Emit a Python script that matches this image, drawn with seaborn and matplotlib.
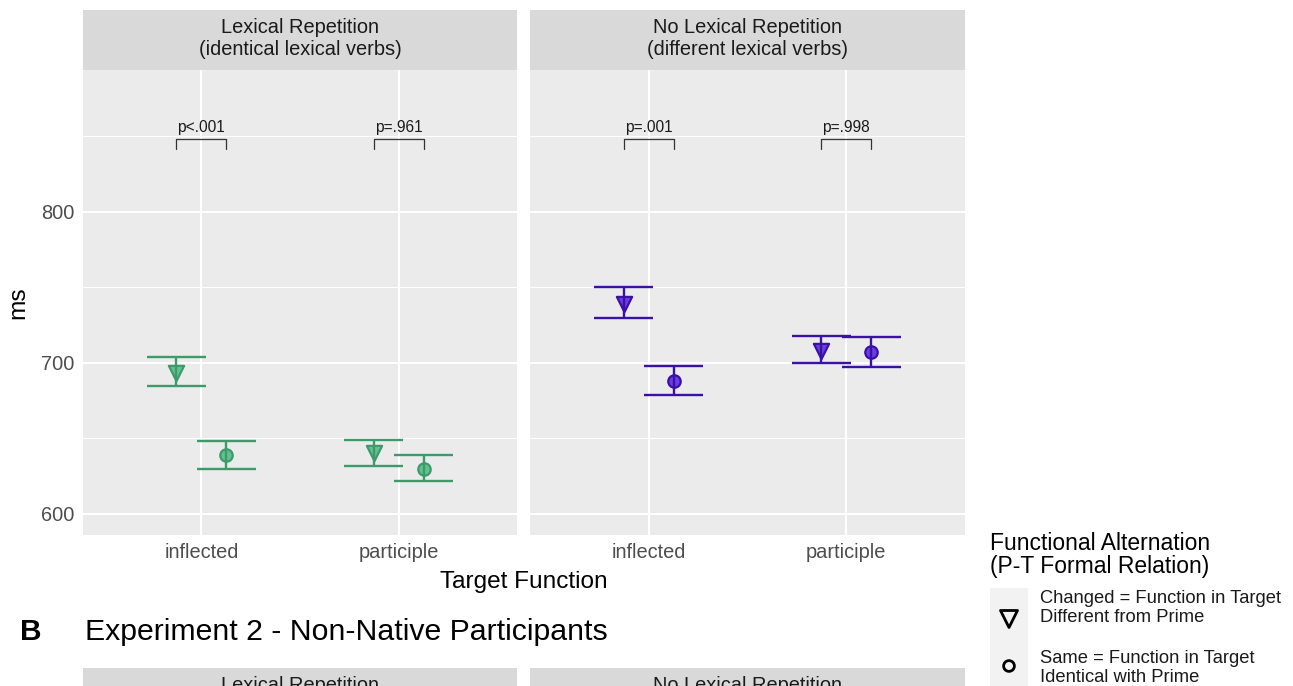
import matplotlib

matplotlib.use("Agg")

import matplotlib.pyplot as plt
import pandas as pd
import seaborn as sns

W, H = 1293, 686

panels = ["Lexical Repetition\n(identical lexical verbs)", "No Lexical Repetition\n(different lexical verbs)"]
functions = ["inflected", "participle"]
relations = ["Changed", "Same"]

# order: inflected/changed, inflected/same, participle/changed, participle/same
lex_mean = [693, 639, 640, 630]
lex_low = [685, 630, 632, 622]
lex_high = [704, 648, 649, 639]
nolex_mean = [739, 688, 708, 707]
nolex_low = [730, 679, 700, 697]
nolex_high = [750, 698, 718, 717]

p_lex = ["p<.001", "p=.961"]
p_nolex = ["p=.001", "p=.998"]

legend_labels = ["Changed = Function in Target\nDifferent from Prime",
                 "Same = Function in Target\nIdentical with Prime"]

colors = [("#3d9a6b", "#63c18f"), ("#3a10a6", "#6a3ee2")]
markers = {"Changed": "v", "Same": "o"}
msize = {"Changed": 120, "Same": 80}
DODGE = 0.127
CAP = 0.15


def box(x0, y0, x1, y1):
    return [x0 / W, 1 - y1 / H, (x1 - x0) / W, (y1 - y0) / H]


def make_frame(mean, low, high):
    rows = []
    k = 0
    for i, f in enumerate(functions):
        for r in relations:
            rows.append({"function": f, "relation": r, "mean": mean[k], "low": low[k], "high": high[k],
                         "x": i + (-DODGE if r == "Changed" else DODGE)})
            k += 1
    return pd.DataFrame(rows)


def strip(rect, label):
    ax = fig.add_axes(rect)
    ax.set_facecolor("#d9d9d9")
    ax.set_xticks([])
    ax.set_yticks([])
    for s in ax.spines.values():
        s.set_visible(False)
    ax.text(0.5, 0.52, label, ha="center", va="center", fontsize=14.4, color="#1a1a1a",
            transform=ax.transAxes, linespacing=1.18)
    return ax


sns.set_theme(style="darkgrid")
plt.rcParams["font.family"] = ["Liberation Sans", "DejaVu Sans"]

fig = plt.figure(figsize=(W / 100, H / 100), dpi=100)

frames = [make_frame(lex_mean, lex_low, lex_high), make_frame(nolex_mean, nolex_low, nolex_high)]
pvals = [p_lex, p_nolex]
xpix = [(83, 517), (530, 965)]

for j, (df, (x0, x1)) in enumerate(zip(frames, xpix)):
    ax = fig.add_axes(box(x0, 70, x1, 535))
    ax.set_facecolor("#ebebeb")
    edge, fill = colors[j]
    for r in relations:
        sub = df[df["relation"] == r]
        sns.scatterplot(data=sub, x="x", y="mean", marker=markers[r], s=msize[r], color=fill,
                        edgecolor=edge, linewidth=1.6, legend=False, ax=ax, zorder=3)
    ax.vlines(df["x"], df["low"], df["high"], color=edge, lw=1.7, zorder=4)
    ax.hlines(df["low"], df["x"] - CAP, df["x"] + CAP, color=edge, lw=1.7, zorder=4)
    ax.hlines(df["high"], df["x"] - CAP, df["x"] + CAP, color=edge, lw=1.7, zorder=4)

    for i, p in enumerate(pvals[j]):
        ax.plot([i - DODGE, i - DODGE, i + DODGE, i + DODGE], [842, 848, 848, 842],
                color="#333333", lw=0.9, zorder=4)
        ax.text(i, 851, p, ha="center", va="bottom", fontsize=11.2, color="#1a1a1a")

    ax.set_xlim(-0.6, 1.6)
    ax.set_ylim(586, 894)
    ax.set_xticks(range(len(functions)))
    ax.set_xticklabels(functions)
    ax.set_yticks([600, 700, 800])
    ax.set_yticks([650, 750, 850], minor=True)
    ax.grid(True, which="major", color="white", lw=1.5)
    ax.grid(True, which="minor", axis="y", color="white", lw=0.75)
    ax.set_axisbelow(True)
    for s in ax.spines.values():
        s.set_visible(False)
    ax.tick_params(axis="both", which="major", length=3.5, width=1.1, color="#333333",
                   labelcolor="#4d4d4d", labelsize=14.4, pad=2.5)
    ax.tick_params(axis="both", which="minor", length=0)
    ax.set_xlabel("")
    ax.set_ylabel("")
    if j == 1:
        ax.tick_params(axis="y", which="major", length=0, labelleft=False)

    strip(box(x0, 10, x1, 70), panels[j])
    # panel B strips, cut by the bottom edge as in the source figure
    strip(box(x0, 668, x1, 728), panels[j])

fig.text(18 / W, 1 - 303 / H, "ms", rotation=90, ha="center", va="center", fontsize=17.6, color="black")
fig.text(524 / W, 1 - 582 / H, "Target Function", ha="center", va="center", fontsize=17.6, color="black")

fig.text(20 / W, 1 - 632 / H, "B", ha="left", va="center", fontsize=21.5, fontweight="bold", color="black")
fig.text(85 / W, 1 - 632 / H, "Experiment 2 - Non-Native Participants", ha="left", va="center",
         fontsize=21.8, color="black")

# legend
fig.text(990 / W, 1 - 532 / H, "Functional Alternation\n(P-T Formal Relation)", ha="left", va="top",
         fontsize=16.5, color="black", linespacing=1.0)
kax = fig.add_axes(box(990, 588, 1028, 700))
kax.set_facecolor("#f2f2f2")
kax.set_xlim(0, 1)
kax.set_ylim(700, 588)
for s in kax.spines.values():
    s.set_visible(False)
kax.set_xticks([])
kax.set_yticks([])
kax.grid(False)
key_y = [619, 666]
label_y = [608, 668]
key_size = {"Changed": 150, "Same": 60}
for r, yk, yl, lab in zip(relations, key_y, label_y, legend_labels):
    kax.scatter([0.5], [yk], marker=markers[r], s=key_size[r], facecolor="none",
                edgecolor="black", linewidth=2.0)
    fig.text(1040 / W, 1 - yl / H, lab, ha="left", va="center", fontsize=13.2,
             color="#1a1a1a", linespacing=1.15)

fig.savefig("out.png", dpi=100)
plt.close(fig)
